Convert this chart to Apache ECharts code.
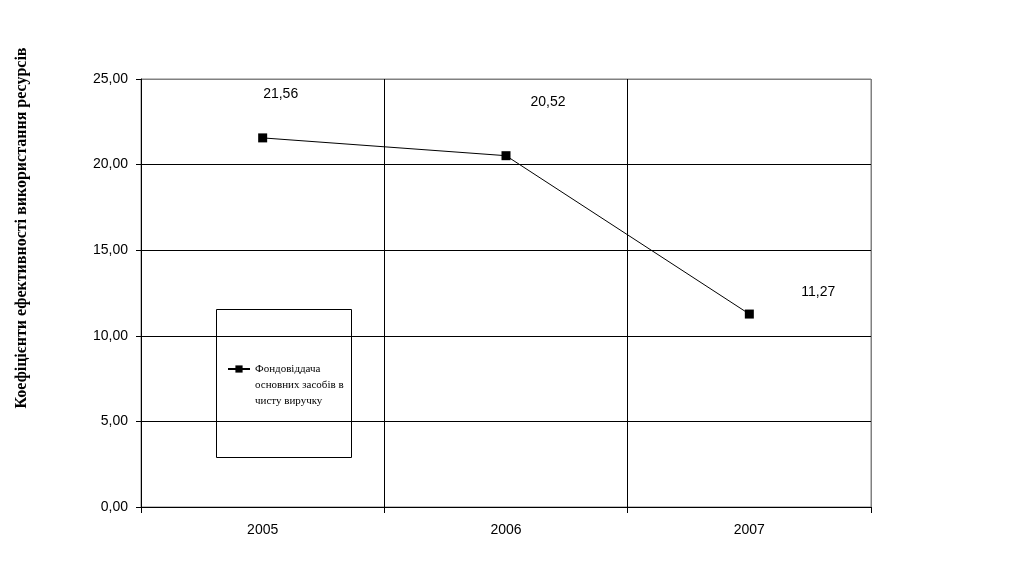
<!DOCTYPE html>
<html>
<head>
<meta charset="utf-8">
<script src="https://cdn.jsdelivr.net/npm/echarts@6/dist/echarts.min.js"></script>
<style>html,body{margin:0;padding:0;background:#fff;}#c{width:1020px;height:561px;}</style>
</head>
<body>
<div id="c"></div>
<script>
const categories = ['2005', '2006', '2007'];
const values = [21.56, 20.52, 11.27];
const seriesName = 'Фондовіддача\nосновних засобів в\nчисту виручку';
const yTitle = 'Коефіцієнти ефективності використання ресурсів';
const labelOffsets = [[18, -2], [42, -12], [69, 20]];

const serif = '"Liberation Serif", "DejaVu Serif", serif';
const sans = '"Liberation Sans", Arial, sans-serif';
const fmt = v => v.toFixed(2).replace('.', ',');

const chart = echarts.init(document.getElementById('c'));
chart.setOption({
  animation: false,
  backgroundColor: '#fff',
  grid: { left: 141, right: 149, top: 79, bottom: 54, show: true, borderColor: '#808080', borderWidth: 1 },
  xAxis: {
    type: 'category', data: categories, boundaryGap: true,
    axisLine: { lineStyle: { color: '#000', width: 1 } },
    axisTick: { show: true, length: 6, lineStyle: { color: '#000' } },
    axisLabel: { color: '#000', fontFamily: sans, fontSize: 14, margin: 16 },
    splitLine: { show: true, lineStyle: { color: ['#000', '#000', '#000', '#808080'], width: 1 } }
  },
  yAxis: {
    type: 'value', min: 0, max: 25, interval: 5,
    axisLine: { show: true, lineStyle: { color: '#000', width: 1 } },
    axisTick: { show: true, length: 5, lineStyle: { color: '#000' } },
    axisLabel: { color: '#000', fontFamily: sans, fontSize: 14, margin: 13, formatter: v => fmt(v) },
    splitLine: { show: true, lineStyle: { color: ['#000', '#000', '#000', '#000', '#000', '#808080'], width: 1 } }
  },
  legend: {
    left: 222, top: 324, orient: 'vertical',
    itemWidth: 22, itemHeight: 9,
    formatter: name => '\n\n' + name,
    textStyle: { color: '#000', fontFamily: serif, fontSize: 11, lineHeight: 16 },
    data: [{ name: seriesName }]
  },
  graphic: [
    { type: 'rect', left: 216, top: 309, shape: { width: 135, height: 148 },
      style: { fill: '#fff', stroke: '#000', lineWidth: 1 }, z: 0, silent: true },
    { type: 'text', x: 22, y: 228, rotation: Math.PI / 2,
      style: { text: yTitle, fontFamily: serif, fontSize: 16, fontWeight: 'bold', fill: '#000',
        align: 'center', verticalAlign: 'middle' } }
  ],
  series: [{
    name: seriesName, type: 'line',
    data: values.map((v, i) => ({ value: v, label: { offset: labelOffsets[i] } })),
    symbol: 'rect', symbolSize: 9,
    itemStyle: { color: '#000' },
    lineStyle: { color: '#000', width: 1 },
    label: { show: true, position: 'top', distance: 30, color: '#000', fontFamily: sans, fontSize: 14,
      formatter: p => fmt(p.value) },
    z: 5
  }]
});
</script>
</body>
</html>
